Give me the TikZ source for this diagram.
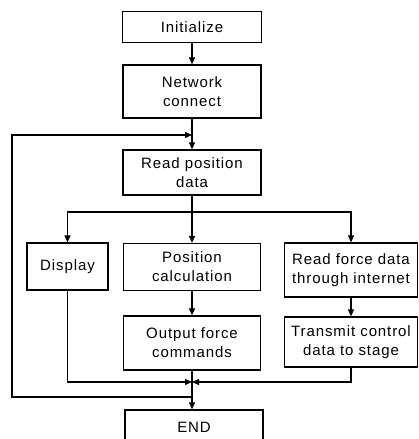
\documentclass[tikz,border=0pt]{standalone}
\usepackage{fontspec}
\setmainfont[LetterSpace=6]{Liberation Sans}
\usetikzlibrary{arrows.meta}
\tikzset{
  box/.style={draw, line width=1.2pt, inner sep=0pt, align=center, font=\fontsize{15}{19}\selectfont},
  plain/.style={line width=1.2pt},
  flow/.style={line width=1.2pt, -{Triangle[length=7pt,width=6pt]}}
}
\begin{document}
\begin{tikzpicture}[x=1pt,y=1pt]
                \useasboundingbox (0,0) rectangle (419,439);
                \node [box, minimum width=139, minimum height=31] (init) at (192,412) {Initialize};
                \node [box, minimum width=138, minimum height=53] (net) at (192,347.5) {Network\\connect};
                \node [box, minimum width=138, minimum height=45] (read) at (192,266.5) {Read position\\data};
                \node [box, minimum width=81, minimum height=47] (disp) at (67.5,172.5) {Display};
                \node [box, minimum width=137, minimum height=47] (pos) at (192,172) {Position\\calculation};
                \node [box, minimum width=133, minimum height=54] (rfd) at (351,169) {Read force data\\through internet};
                \node [box, minimum width=137, minimum height=54] (out) at (192,96) {Output force\\commands};
                \node [box, minimum width=133, minimum height=50] (tr) at (351,97) {Transmit control\\data to stage};
                \node [box, minimum width=138, minimum height=35] (end) at (194,11.5) {END};
                \coordinate (top) at (192,304);
                \coordinate (fork) at (192,227);
                \coordinate (merge) at (192,57);
                \coordinate (back) at (192,42);
                \coordinate (left) at (12,42);
                \draw [flow] (init) -- (net);
                \draw [flow] (net) -- (read);
                \draw [plain] (read) -- (fork);
                \draw [flow] (fork) -| (disp);
                \draw [flow] (fork) -- (pos);
                \draw [flow] (fork) -| (rfd);
                \draw [flow] (pos) -- (out);
                \draw [flow] (rfd) -- (tr);
                \draw [flow] (disp) |- (merge);
                \draw [flow] (tr) |- (merge);
                \draw [plain] (out) -- (merge);
                \draw [flow] (merge) -- (merge |- end.north);
                \draw [flow] (back) -- (left) |- (top);
            \end{tikzpicture}
\end{document}
